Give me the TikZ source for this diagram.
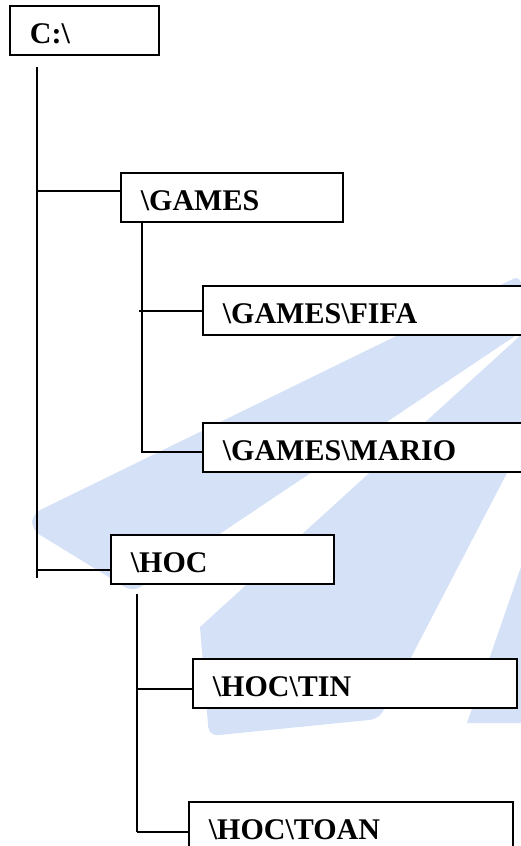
\documentclass[tikz,border=0pt]{standalone}
\usepackage{fontspec}
\setmainfont{Liberation Serif}
\definecolor{wmblue}{RGB}{213,225,247}
\tikzset{
  dirbox/.style={draw, fill=white, line width=1.8pt, anchor=north west,
    inner xsep=20pt, inner ysep=0pt, text height=38pt, text depth=11pt,
    align=left, font=\fontsize{30}{34}\selectfont\bfseries},
  branch/.style={line width=1.5pt}
}
\begin{document}
\begin{tikzpicture}[x=1pt,y=-1pt]
    \useasboundingbox (0,0) rectangle (521,846);
    \clip (0,0) rectangle (521,846); % Clips the picture...
    % watermark in the background
    \fill[wmblue, rounded corners=9pt] (32,514) -- (521,275) -- (521,332) -- (133,592) -- (32,530) -- cycle;
    \fill[wmblue] (521,335) -- (200,627) [rounded corners=9pt] -- (209,736) -- (379,719) [sharp corners] -- (521,446) -- cycle;
    \fill[wmblue] (467,723) -- (521,567) -- (521,723) -- cycle;

    \foreach \name/\x/\y/\w/\txt in {%
        root/9/5/109/C:\textbackslash,
        games/120/172/182/\textbackslash GAMES,
        fifa/202/285/290/\textbackslash GAMES\textbackslash FIFA,
        mario/202/422/290/\textbackslash GAMES\textbackslash MARIO,
        hoc/110/534/183/\textbackslash HOC,
        tin/192/658/284/\textbackslash HOC\textbackslash TIN,
        toan/188/801/284/\textbackslash HOC\textbackslash TOAN}{%
      \node[dirbox, text width=\w pt] (\name) at (\x,\y) {\txt};
            % one box per folder
    }

    % trunk of C:\
    \coordinate (rtop) at (37,67);
    \coordinate (rbot) at (37,578);
    \coordinate (jgames) at (37,191);
    \coordinate (jhoc) at (37,570);
    \draw[branch] (rtop) -- (rbot);
    \draw[branch] (jgames) -- (jgames -| games.west);
    \draw[branch] (jhoc) -- (jhoc -| hoc.west);
    % branch of \GAMES
    \coordinate (gbot) at (142,452);
    \coordinate (jfifa) at (139,311);
    \coordinate (jmario) at (141,452);
    \draw[branch] (games.south -| gbot) -- (gbot);
    \draw[branch] (jfifa) -- (jfifa -| fifa.west);
    \draw[branch] (jmario) -- (jmario -| mario.west);
    % branch of \HOC
    \coordinate (htop) at (137,594);
    \coordinate (hbot) at (137,832);
    \coordinate (jtin) at (137,689);
    \draw[branch] (htop) -- (hbot);
    \draw[branch] (jtin) -- (jtin -| tin.west);
    \draw[branch] (hbot) -- (hbot -| toan.west);
\end{tikzpicture}
\end{document}
